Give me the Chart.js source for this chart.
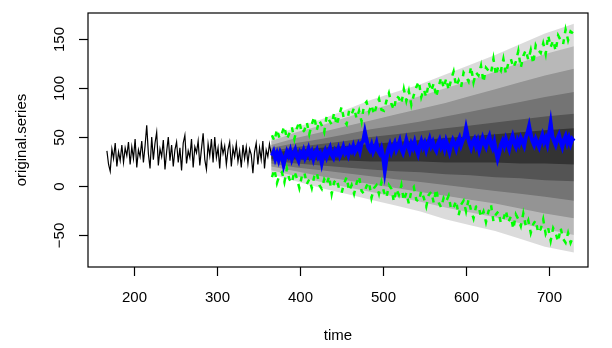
<!DOCTYPE html>
<html>
<head>
<meta charset="utf-8">
<script src="https://cdn.jsdelivr.net/npm/chart.js@4/dist/chart.umd.min.js"></script>
<style>
  body { margin: 0; background: #fff; }
  canvas { display: block; }
</style>
</head>
<body>
<canvas id="forecastChart" width="612" height="348"></canvas>
<script>
// observed series, one value every 2 time steps from t = 167
const seriesStart = 167;
const seriesStep = 2;
const seriesValues = [
  36, 22, 15, 38, 28, 44, 20, 35, 26, 42, 24, 39, 31, 45, 22, 40, 28, 48, 19, 37,
  30, 46, 24, 41, 62, 33, 18, 50, 27, 44, 55, 21, 38, 30, 47, 17, 35, 50, 26, 42,
  20, 37, 45, 24, 39, 16, 44, 52, 23, 36, 29, 48, 19, 40, 34, 46, 21, 38, 54, 27,
  17, 43, 31, 48, 24, 50, 29, 39, 18, 44, 33, 41, 22, 37, 45, 20, 39, 30, 43, 25,
  36, 19, 42, 28, 40, 23, 38, 32, 13, 35, 44, 22, 39, 27, 46, 18, 37, 30, 43, 33
];

// forecast mean, one value every 2 time steps from t = 366
const meanStart = 366;
const meanStep = 2;
const meanValues = [
  31, 35, 28, 33, 27, 34, 30, 22, 29, 35, 31, 36, 28, 33, 37, 30, 26, 34, 31, 36,
  29, 33, 38, 31, 35, 28, 34, 37, 30, 33, 24, 32, 36, 30, 35, 39, 32, 29, 36, 33,
  38, 31, 35, 40, 34, 37, 32, 39, 36, 41, 35, 38, 42, 36, 44, 46, 55, 47, 40, 37,
  42, 35, 39, 44, 36, 33, 38, 30, 16, 28, 37, 42, 35, 40, 44, 37, 41, 46, 38, 34,
  40, 47, 41, 36, 43, 39, 45, 38, 33, 41, 46, 40, 44, 37, 43, 48, 41, 45, 39, 36,
  43, 47, 40, 44, 38, 46, 41, 35, 42, 47, 43, 38, 45, 49, 42, 47, 50, 59, 51, 44,
  39, 45, 48, 41, 46, 37, 43, 49, 44, 40, 47, 51, 43, 39, 45, 36, 28, 34, 42, 46,
  41, 48, 43, 38, 46, 51, 44, 40, 47, 43, 49, 45, 41, 50, 54, 61, 52, 46, 42, 48,
  44, 40, 47, 52, 45, 49, 43, 53, 64, 51, 46, 42, 48, 52, 45, 40, 47, 51, 44, 49,
  43, 48, 46
];

// upper and lower bounds, one value every 3 time steps from t = 366
const boundStart = 366;
const boundStep = 3;
const upperValues = [
  52, 46, 58, 49, 54, 61, 48, 54, 60, 48, 59, 66, 54, 57, 65, 53, 63, 71, 57, 67,
  62, 55, 72, 67, 63, 75, 62, 72, 81, 67, 63, 77, 73, 80, 69, 77, 66, 83, 86, 76,
  83, 73, 82, 89, 78, 77, 87, 95, 84, 78, 92, 90, 84, 99, 87, 97, 83, 93, 101, 107,
  91, 99, 91, 106, 97, 105, 91, 102, 111, 100, 110, 98, 109, 117, 102, 108, 101, 116, 112, 107,
  122, 106, 116, 113, 123, 106, 121, 118, 115, 130, 113, 123, 118, 130, 115, 126, 130, 121, 127, 138,
  121, 133, 139, 129, 139, 125, 144, 139, 136, 146, 135, 154, 142, 149, 138, 154, 149, 145, 160, 149,
  158, 156
];
const lowerValues = [
  9, 17, 3, 11, 14, 4, 18, 7, 3, 15, 8, -2, 10, 14, 2, 7, -2, 10, 14, 1,
  -3, 7, 2, 10, -8, 4, 7, -3, -7, 3, 9, -5, 1, -8, 3, 10, -5, -8, 0, 4,
  -12, -2, 1, -8, 4, -6, -12, 1, -3, -16, -3, -9, 1, -15, -7, -18, -5, -1, -14, -16,
  -5, -12, -21, -9, -6, -17, -3, -17, -22, -12, -16, -10, -24, -22, -15, -30, -19, -15, -26, -14,
  -25, -33, -21, -20, -32, -26, -37, -26, -19, -36, -29, -26, -38, -34, -25, -37, -31, -44, -29, -34,
  -41, -28, -41, -35, -48, -39, -35, -48, -44, -34, -49, -43, -56, -43, -48, -57, -43, -54, -58, -48,
  -58, -52
];

// spread of the simulated paths, coarse steps, outermost band first
const fanTime = [365, 395, 425, 455, 485, 515, 545, 575, 605, 635, 665, 695, 730];
const fanHigh1 = [50, 60, 68, 78, 88, 96, 104, 114, 124, 134, 145, 156, 166];
const fanLow1 = [12, 5, -2, -8, -14, -20, -26, -34, -40, -46, -54, -62, -68];
const fanHigh2 = [46, 55, 62, 70, 78, 85, 92, 100, 108, 117, 126, 135, 143];
const fanLow2 = [16, 10, 4, -1, -6, -11, -16, -22, -27, -32, -38, -44, -50];
const fanHigh3 = [42, 49, 55, 61, 67, 73, 79, 85, 92, 99, 106, 113, 120];
const fanLow3 = [20, 15, 10, 6, 2, -2, -6, -10, -14, -18, -23, -28, -33];
const fanHigh4 = [39, 44, 48, 53, 58, 62, 66, 71, 76, 81, 86, 91, 96];
const fanLow4 = [23, 19, 16, 13, 10, 7, 4, 1, -2, -5, -8, -11, -15];
const fanHigh5 = [36, 40, 43, 46, 50, 53, 56, 59, 62, 65, 68, 71, 74];
const fanLow5 = [26, 23, 21, 19, 17, 15, 14, 12, 11, 9, 8, 6, 5];
const fanHigh6 = [34, 37, 39, 41, 43, 45, 47, 49, 51, 53, 55, 57, 59];
const fanLow6 = [28, 27, 26, 26, 25, 25, 25, 24, 24, 24, 23, 23, 22];

const xTicks = [200, 300, 400, 500, 600, 700];
const yTicks = [-50, 0, 50, 100, 150];

function toPoints(values, start, step) {
  return values.map(function (v, i) {
    return { x: start + i * step, y: v };
  });
}

function fanPoints(values) {
  return values.map(function (v, i) {
    return { x: fanTime[i], y: v };
  });
}

// a band is two datasets: the top one fills down to the bottom one
function fanBand(high, low, alpha, order) {
  return [
    {
      data: fanPoints(high),
      borderWidth: 0,
      pointRadius: 0,
      fill: "+1",
      backgroundColor: "rgba(0,0,0," + alpha + ")",
      order: order,
    },
    {
      data: fanPoints(low),
      borderWidth: 0,
      pointRadius: 0,
      fill: false,
      order: order,
    },
  ];
}

const FONT = '15px "Liberation Sans", Arial, sans-serif';

// R style box, ticks and axis titles
const boxAxes = {
  id: "boxAxes",
  afterDraw: function (chart) {
    const ctx = chart.ctx;
    const a = chart.chartArea;
    const xs = chart.scales.x;
    const ys = chart.scales.y;
    ctx.save();
    ctx.strokeStyle = "#000";
    ctx.fillStyle = "#000";
    ctx.lineWidth = 1.2;
    ctx.strokeRect(a.left, a.top, a.right - a.left, a.bottom - a.top);
    ctx.font = FONT;

    ctx.textAlign = "center";
    ctx.textBaseline = "middle";
    xTicks.forEach(function (v) {
      const px = Math.round(xs.getPixelForValue(v)) + 0.5;
      ctx.beginPath();
      ctx.moveTo(px, a.bottom);
      ctx.lineTo(px, a.bottom + 9);
      ctx.stroke();
      ctx.fillText(String(v), px, 298);
    });

    yTicks.forEach(function (v) {
      const py = Math.round(ys.getPixelForValue(v)) + 0.5;
      ctx.beginPath();
      ctx.moveTo(a.left - 9, py);
      ctx.lineTo(a.left, py);
      ctx.stroke();
      ctx.save();
      ctx.translate(60, py);
      ctx.rotate(-Math.PI / 2);
      ctx.fillText(String(v).replace("-", "\u2212"), 0, 0);
      ctx.restore();
    });

    ctx.fillText("time", (a.left + a.right) / 2, 336);
    ctx.save();
    ctx.translate(22, (a.top + a.bottom) / 2);
    ctx.rotate(-Math.PI / 2);
    ctx.fillText("original.series", 0, 0);
    ctx.restore();
    ctx.restore();
  },
};

let forecastCanvas = document.getElementById("forecastChart");
if (forecastCanvas) {
  var ctx = forecastCanvas.getContext("2d");
  var datasets = []
    .concat(fanBand(fanHigh1, fanLow1, 0.14, 26))
    .concat(fanBand(fanHigh2, fanLow2, 0.16, 25))
    .concat(fanBand(fanHigh3, fanLow3, 0.2, 24))
    .concat(fanBand(fanHigh4, fanLow4, 0.22, 23))
    .concat(fanBand(fanHigh5, fanLow5, 0.28, 22))
    .concat(fanBand(fanHigh6, fanLow6, 0.4, 21));

  datasets.push(
    {
      data: toPoints(seriesValues, seriesStart, seriesStep),
      borderColor: "#000",
      borderWidth: 1.2,
      pointRadius: 0,
      fill: false,
      order: 3,
    },
    {
      data: toPoints(upperValues, boundStart, boundStep),
      borderColor: "#00ff00",
      borderWidth: 2.5,
      borderDash: [5, 6],
      pointRadius: 0,
      fill: false,
      order: 2,
    },
    {
      data: toPoints(lowerValues, boundStart, boundStep),
      borderColor: "#00ff00",
      borderWidth: 2.5,
      borderDash: [5, 6],
      pointRadius: 0,
      fill: false,
      order: 2,
    },
    {
      data: toPoints(meanValues, meanStart, meanStep),
      borderColor: "#0000ff",
      borderWidth: 4,
      pointRadius: 0,
      fill: false,
      order: 1,
    }
  );

  var options = {
    responsive: false,
    animation: false,
    events: [],
    layout: { padding: { left: 88, right: 24, top: 13, bottom: 81 } },
    plugins: {
      legend: { display: false },
      tooltip: { enabled: false },
    },
    scales: {
      x: { type: "linear", display: false, min: 144.2, max: 747 },
      y: { type: "linear", display: false, min: -82.8, max: 176.9 },
    },
  };

  var forecastChart = new Chart(ctx, {
    type: "line",
    data: { datasets: datasets },
    options: options,
    plugins: [boxAxes],
  });
}
</script>
</body>
</html>
